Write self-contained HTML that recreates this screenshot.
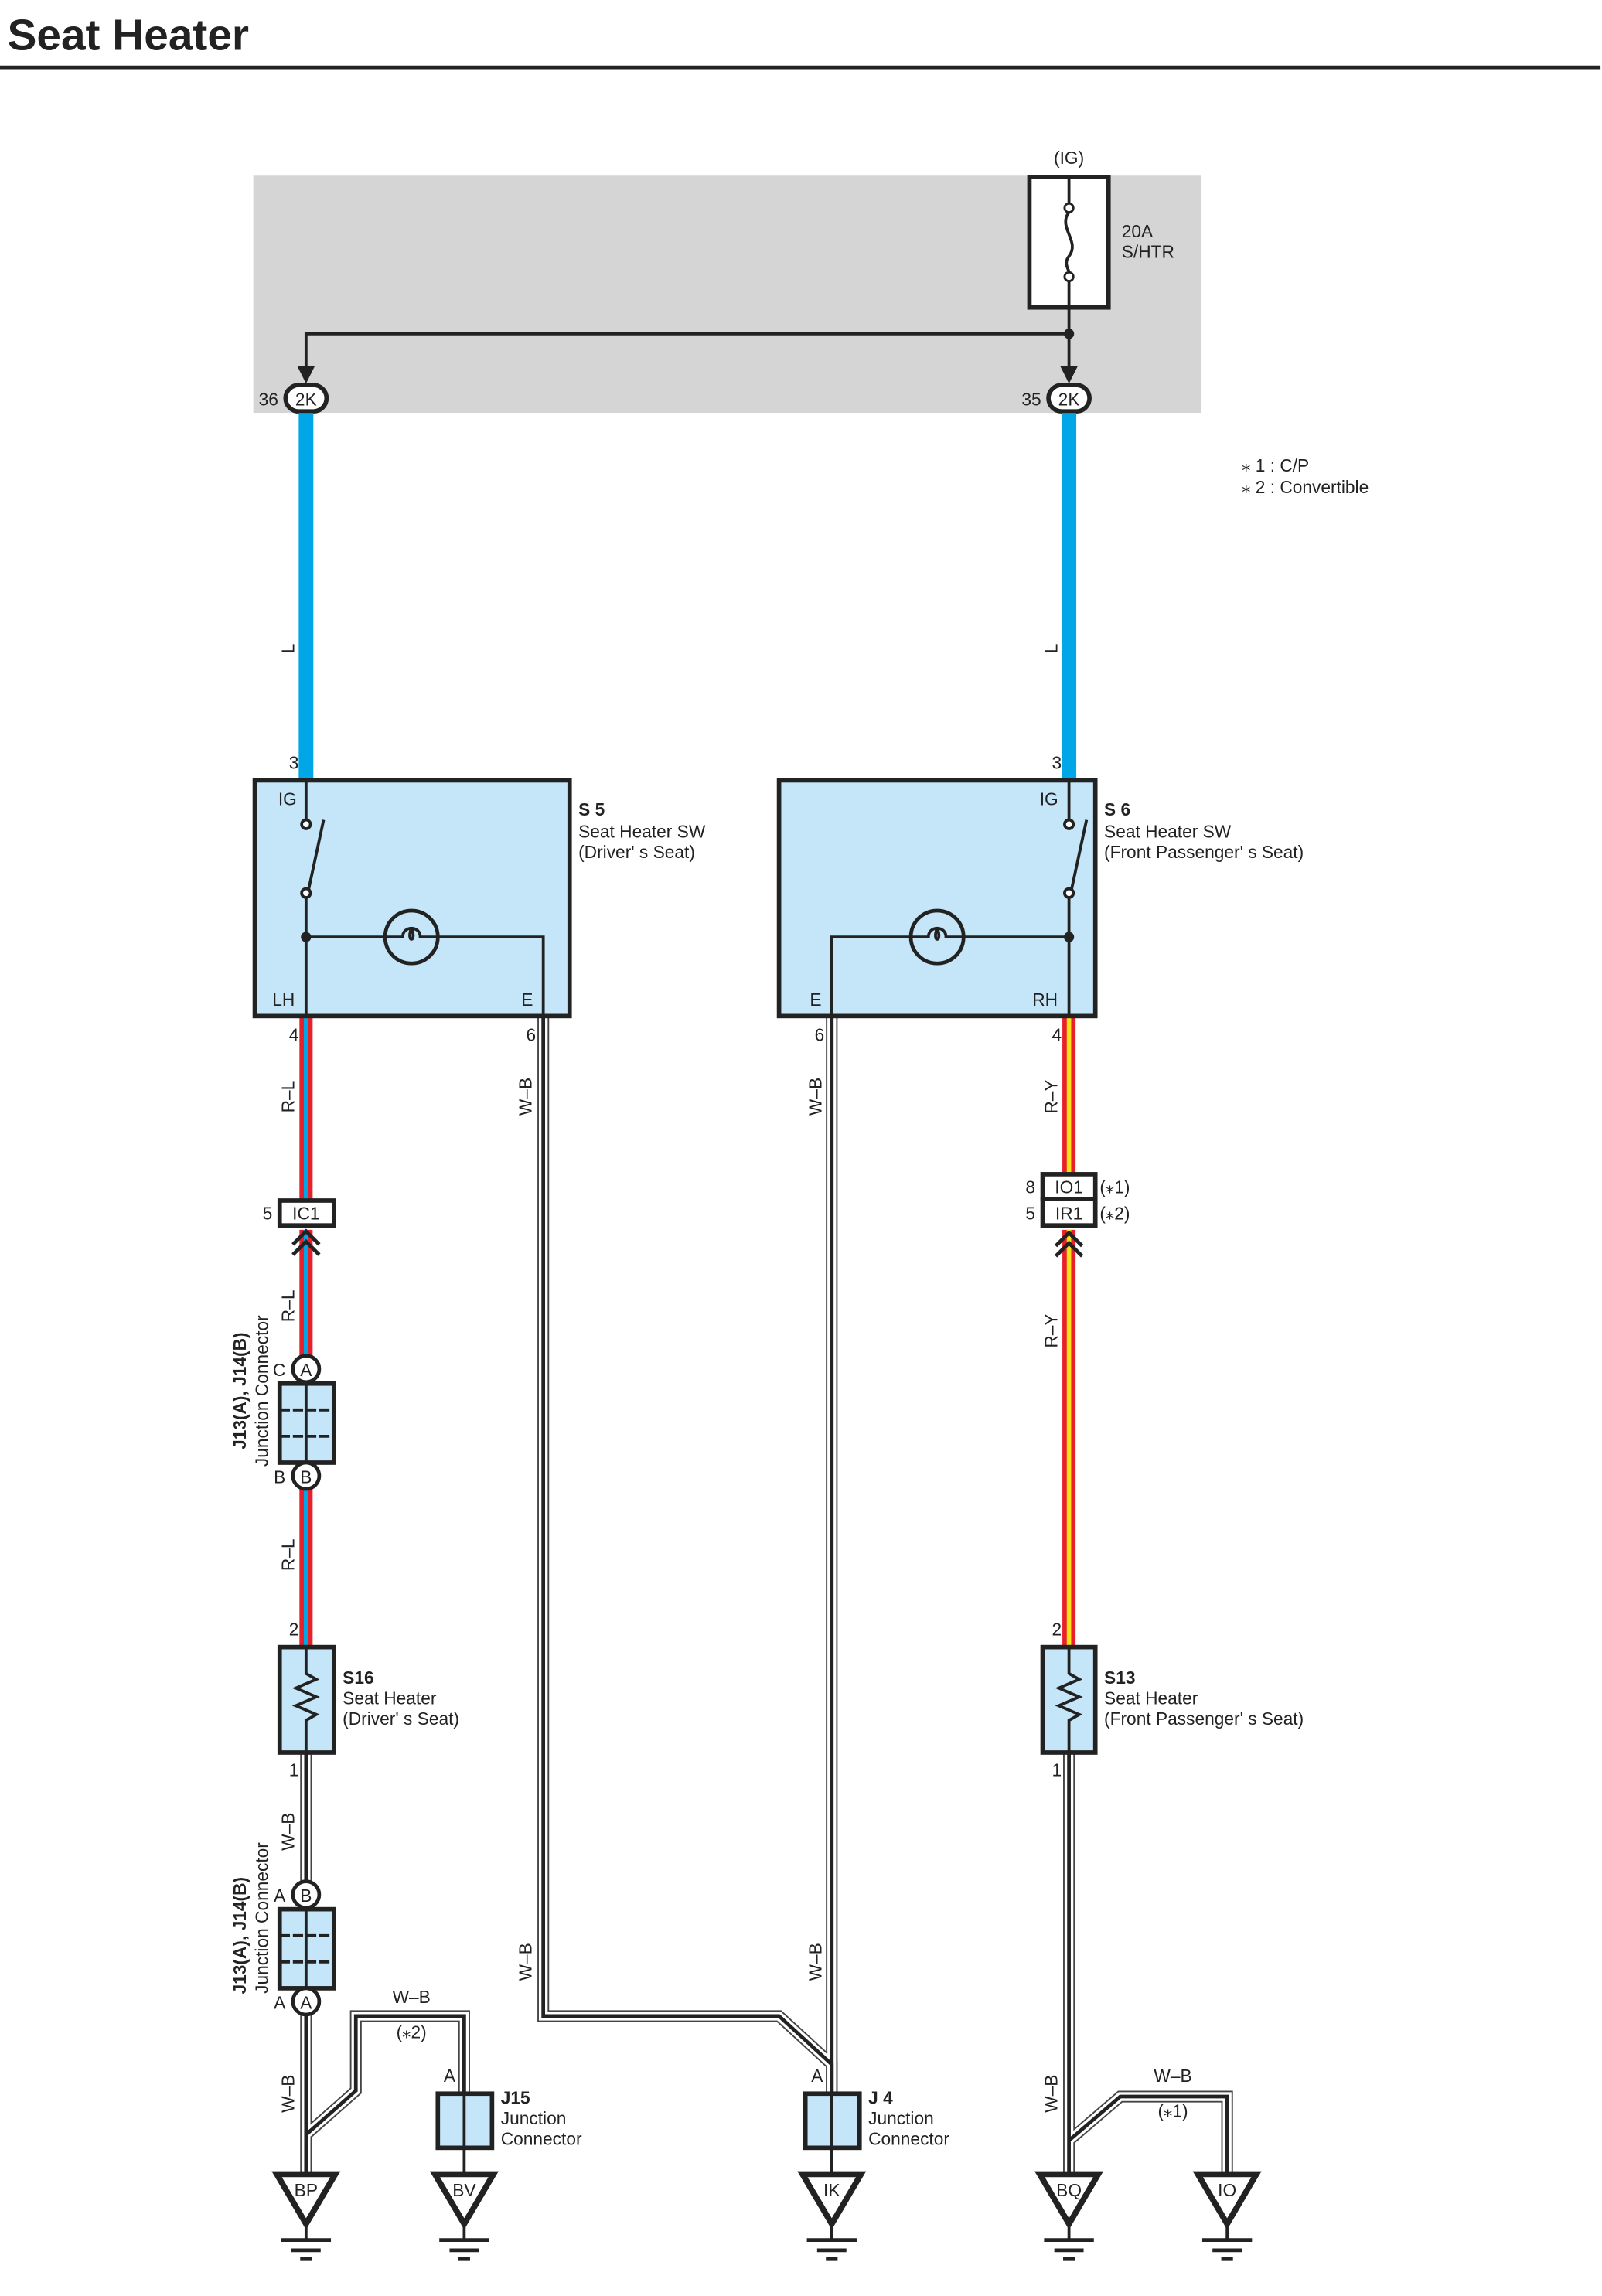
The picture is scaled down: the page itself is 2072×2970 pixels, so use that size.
<!DOCTYPE html>
<html><head><style>html,body{margin:0;padding:0;background:#fff}svg{display:block}</style></head>
<body>
<svg width="2072" height="2970" viewBox="0 0 1094 1568.2" preserveAspectRatio="none" xmlns="http://www.w3.org/2000/svg" font-family="Liberation Sans, sans-serif">
<defs>
<g id="gnd">
 <path d="M-20,0 L20,0 L0,34 Z" fill="#fff" stroke="#222" stroke-width="4" stroke-linejoin="miter"/>
 <line x1="0" y1="34" x2="0" y2="45" stroke="#222" stroke-width="2"/>
 <line x1="-17" y1="45" x2="17" y2="45" stroke="#222" stroke-width="2.5"/>
 <line x1="-10" y1="52" x2="10" y2="52" stroke="#222" stroke-width="2.5"/>
 <line x1="-4" y1="58" x2="4" y2="58" stroke="#222" stroke-width="2.5"/>
</g>
</defs>
<text x="5" y="34" font-size="30" font-weight="bold" fill="#222">Seat Heater</text>
<line x1="0" y1="46" x2="1093" y2="46" stroke="#222" stroke-width="2.5"/>

<rect x="173" y="120" width="647" height="162" fill="#d5d5d6"/>
<text x="730" y="112" font-size="12" text-anchor="middle" fill="#222">(IG)</text>
<rect x="703" y="121" width="54" height="89" fill="#fff" stroke="#222" stroke-width="3"/>
<circle cx="730" cy="142" r="3" fill="#fff" stroke="#222" stroke-width="1.5"/>
<circle cx="730" cy="189" r="3" fill="#fff" stroke="#222" stroke-width="1.5"/>
<path d="M730,145 C722,155 738,165 730,175 C726,180 730,184 730,186" fill="none" stroke="#222" stroke-width="2"/>
<line x1="730" y1="122" x2="730" y2="139" stroke="#222" stroke-width="2"/>
<text x="766" y="162" font-size="12" fill="#222">20A</text>
<text x="766" y="176" font-size="12" fill="#222">S/HTR</text>
<path d="M730,192 V250 M209,250 V228 H730" fill="none" stroke="#222" stroke-width="2"/>
<circle cx="730" cy="228" r="3.5" fill="#222"/>
<path d="M203,250 L215,250 L209,262 Z M724,250 L736,250 L730,262 Z" fill="#222"/>
<rect x="195" y="263" width="28" height="18" rx="9" fill="#fff" stroke="#222" stroke-width="3"/>
<rect x="716" y="263" width="28" height="18" rx="9" fill="#fff" stroke="#222" stroke-width="3"/>
<text x="209" y="277" font-size="12" text-anchor="middle" fill="#222">2K</text>
<text x="730" y="277" font-size="12" text-anchor="middle" fill="#222">2K</text>
<text x="190" y="277" font-size="12" text-anchor="end" fill="#222">36</text>
<text x="711" y="277" font-size="12" text-anchor="end" fill="#222">35</text>

<text x="848" y="322" font-size="12" fill="#222">⁎ 1 : C/P</text>
<text x="848" y="337" font-size="12" fill="#222">⁎ 2 : Convertible</text>

<line x1="209" y1="282" x2="209" y2="533" stroke="#00a6e6" stroke-width="10"/>
<line x1="730" y1="282" x2="730" y2="533" stroke="#00a6e6" stroke-width="10"/>
<text transform="translate(201,443) rotate(-90)" font-size="12" text-anchor="middle" fill="#222">L</text>
<text transform="translate(722,443) rotate(-90)" font-size="12" text-anchor="middle" fill="#222">L</text>
<text x="204" y="525" font-size="12" text-anchor="end" fill="#222">3</text>
<text x="725" y="525" font-size="12" text-anchor="end" fill="#222">3</text>

<g fill="none" stroke-linejoin="miter">
 <g stroke="#444" stroke-width="8">
  <path d="M371,694 V1377 H532 L568,1410 V1430"/>
  <path d="M568,694 V1430"/>
  <path d="M209,1197 V1294 M209,1376 V1484 M209,1458 L243,1428 V1377 H317 V1430"/>
  <path d="M730,1197 V1484 M730,1462 L765,1432 H838 V1484"/>
 </g>
 <g stroke="#fff" stroke-width="6">
  <path d="M371,694 V1377 H532 L568,1410 V1430"/>
  <path d="M568,694 V1430"/>
  <path d="M209,1197 V1294 M209,1376 V1484 M209,1458 L243,1428 V1377 H317 V1430"/>
  <path d="M730,1197 V1484 M730,1462 L765,1432 H838 V1484"/>
 </g>
 <g stroke="#222" stroke-width="2.5">
  <path d="M371,694 V1377 H532 L568,1410 V1430"/>
  <path d="M568,694 V1430"/>
  <path d="M209,1197 V1294 M209,1376 V1484 M209,1458 L243,1428 V1377 H317 V1430"/>
  <path d="M730,1197 V1484 M730,1462 L765,1432 H838 V1484"/>
 </g>
</g>
<line x1="317" y1="1467" x2="317" y2="1484" stroke="#222" stroke-width="2"/>
<line x1="568" y1="1467" x2="568" y2="1484" stroke="#222" stroke-width="2"/>

<g stroke-width="9" stroke="#e8202a">
 <line x1="209" y1="694" x2="209" y2="819"/>
 <line x1="209" y1="840" x2="209" y2="926"/>
 <line x1="209" y1="1017" x2="209" y2="1125"/>
</g>
<g stroke-width="3" stroke="#00a6e6">
 <line x1="209" y1="694" x2="209" y2="819"/>
 <line x1="209" y1="840" x2="209" y2="926"/>
 <line x1="209" y1="1017" x2="209" y2="1125"/>
</g>
<g stroke-width="9" stroke="#e8202a">
 <line x1="730" y1="694" x2="730" y2="802"/>
 <line x1="730" y1="840" x2="730" y2="1125"/>
</g>
<g stroke-width="3" stroke="#f7e11a">
 <line x1="730" y1="694" x2="730" y2="802"/>
 <line x1="730" y1="840" x2="730" y2="1125"/>
</g>

<rect x="174" y="533" width="215" height="161" fill="#c5e6f8" stroke="#222" stroke-width="3"/>
<text x="190" y="550" font-size="12" fill="#222">IG</text>
<text x="186" y="687" font-size="12" fill="#222">LH</text>
<text x="356" y="687" font-size="12" fill="#222">E</text>
<g stroke="#222" stroke-width="2" fill="none">
 <path d="M209,533 V560 M209,612 V694 M209,640 H263 M299,640 H371 V694 M210,611 L221,560"/>
 <circle cx="281" cy="640" r="18" stroke-width="2.5"/>
 <path d="M263,640 H275 C275,632 287,632 287,640 H299 M281,634 C277,644 285,644 281,634"/>
</g>
<circle cx="209" cy="563" r="3" fill="#fff" stroke="#222" stroke-width="2"/>
<circle cx="209" cy="610" r="3" fill="#fff" stroke="#222" stroke-width="2"/>
<circle cx="209" cy="640" r="3.5" fill="#222"/>
<text x="395" y="557" font-size="12" font-weight="bold" fill="#222">S 5</text>
<text x="395" y="572" font-size="12" fill="#222">Seat Heater SW</text>
<text x="395" y="586" font-size="12" fill="#222">(Driver' s Seat)</text>
<text x="204" y="711" font-size="12" text-anchor="end" fill="#222">4</text>
<text x="366" y="711" font-size="12" text-anchor="end" fill="#222">6</text>

<rect x="532" y="533" width="216" height="161" fill="#c5e6f8" stroke="#222" stroke-width="3"/>
<text x="710" y="550" font-size="12" fill="#222">IG</text>
<text x="705" y="687" font-size="12" fill="#222">RH</text>
<text x="553" y="687" font-size="12" fill="#222">E</text>
<g stroke="#222" stroke-width="2" fill="none">
 <path d="M730,533 V560 M730,612 V694 M730,640 H658 M622,640 H568 V694 M731,611 L742,560"/>
 <circle cx="640" cy="640" r="18" stroke-width="2.5"/>
 <path d="M622,640 H634 C634,632 646,632 646,640 H658 M640,634 C636,644 644,644 640,634"/>
</g>
<circle cx="730" cy="563" r="3" fill="#fff" stroke="#222" stroke-width="2"/>
<circle cx="730" cy="610" r="3" fill="#fff" stroke="#222" stroke-width="2"/>
<circle cx="730" cy="640" r="3.5" fill="#222"/>
<text x="754" y="557" font-size="12" font-weight="bold" fill="#222">S 6</text>
<text x="754" y="572" font-size="12" fill="#222">Seat Heater SW</text>
<text x="754" y="586" font-size="12" fill="#222">(Front Passenger' s Seat)</text>
<text x="725" y="711" font-size="12" text-anchor="end" fill="#222">4</text>
<text x="563" y="711" font-size="12" text-anchor="end" fill="#222">6</text>

<g font-size="12" fill="#222" text-anchor="middle">
 <text transform="translate(201,749) rotate(-90)">R–L</text>
 <text transform="translate(201,892) rotate(-90)">R–L</text>
 <text transform="translate(201,1062) rotate(-90)">R–L</text>
 <text transform="translate(201,1251) rotate(-90)">W–B</text>
 <text transform="translate(201,1430) rotate(-90)">W–B</text>
 <text transform="translate(363,749) rotate(-90)">W–B</text>
 <text transform="translate(363,1340) rotate(-90)">W–B</text>
 <text transform="translate(561,749) rotate(-90)">W–B</text>
 <text transform="translate(561,1340) rotate(-90)">W–B</text>
 <text transform="translate(722,749) rotate(-90)">R–Y</text>
 <text transform="translate(722,909) rotate(-90)">R–Y</text>
 <text transform="translate(722,1430) rotate(-90)">W–B</text>
 <text x="281" y="1368">W–B</text>
 <text x="281" y="1392">(⁎2)</text>
 <text x="801" y="1422">W–B</text>
 <text x="801" y="1446">(⁎1)</text>
</g>

<rect x="191" y="820" width="37" height="17" fill="#fff" stroke="#222" stroke-width="3"/>
<text x="209" y="833" font-size="12" text-anchor="middle" fill="#222">IC1</text>
<text x="186" y="833" font-size="12" text-anchor="end" fill="#222">5</text>
<path d="M200,850 L209,841 L218,850 M200,857 L209,848 L218,857" fill="none" stroke="#222" stroke-width="2.5"/>

<rect x="712" y="802" width="36" height="17" fill="#fff" stroke="#222" stroke-width="3"/>
<rect x="712" y="819" width="36" height="18" fill="#fff" stroke="#222" stroke-width="3"/>
<text x="730" y="815" font-size="12" text-anchor="middle" fill="#222">IO1</text>
<text x="730" y="833" font-size="12" text-anchor="middle" fill="#222">IR1</text>
<text x="707" y="815" font-size="12" text-anchor="end" fill="#222">8</text>
<text x="707" y="833" font-size="12" text-anchor="end" fill="#222">5</text>
<text x="751" y="815" font-size="12" fill="#222">(⁎1)</text>
<text x="751" y="833" font-size="12" fill="#222">(⁎2)</text>
<path d="M721,851 L730,842 L739,851 M721,858 L730,849 L739,858" fill="none" stroke="#222" stroke-width="2.5"/>

<circle cx="209" cy="935" r="9" fill="#fff" stroke="#222" stroke-width="2.5"/>
<text x="209" y="940" font-size="12" text-anchor="middle" fill="#222">A</text>
<text x="195" y="940" font-size="12" text-anchor="end" fill="#222">C</text>
<rect x="191" y="945" width="37" height="54" fill="#c5e6f8" stroke="#222" stroke-width="3"/>
<line x1="209" y1="945" x2="209" y2="999" stroke="#222" stroke-width="2"/>
<line x1="191" y1="963" x2="228" y2="963" stroke="#222" stroke-width="2" stroke-dasharray="7,2"/>
<line x1="191" y1="981" x2="228" y2="981" stroke="#222" stroke-width="2" stroke-dasharray="7,2"/>
<circle cx="209" cy="1008" r="9" fill="#fff" stroke="#222" stroke-width="2.5"/>
<text x="209" y="1013" font-size="12" text-anchor="middle" fill="#222">B</text>
<text x="195" y="1013" font-size="12" text-anchor="end" fill="#222">B</text>
<text transform="translate(168,950) rotate(-90)" font-size="12" font-weight="bold" text-anchor="middle" fill="#222">J13(A), J14(B)</text>
<text transform="translate(183,950) rotate(-90)" font-size="12" text-anchor="middle" fill="#222">Junction Connector</text>

<circle cx="209" cy="1294" r="9" fill="#fff" stroke="#222" stroke-width="2.5"/>
<text x="209" y="1299" font-size="12" text-anchor="middle" fill="#222">B</text>
<text x="195" y="1299" font-size="12" text-anchor="end" fill="#222">A</text>
<rect x="191" y="1304" width="37" height="54" fill="#c5e6f8" stroke="#222" stroke-width="3"/>
<line x1="209" y1="1304" x2="209" y2="1358" stroke="#222" stroke-width="2"/>
<line x1="191" y1="1322" x2="228" y2="1322" stroke="#222" stroke-width="2" stroke-dasharray="7,2"/>
<line x1="191" y1="1340" x2="228" y2="1340" stroke="#222" stroke-width="2" stroke-dasharray="7,2"/>
<circle cx="209" cy="1367" r="9" fill="#fff" stroke="#222" stroke-width="2.5"/>
<text x="209" y="1372" font-size="12" text-anchor="middle" fill="#222">A</text>
<text x="195" y="1372" font-size="12" text-anchor="end" fill="#222">A</text>
<text transform="translate(168,1322) rotate(-90)" font-size="12" font-weight="bold" text-anchor="middle" fill="#222">J13(A), J14(B)</text>
<text transform="translate(183,1310) rotate(-90)" font-size="12" text-anchor="middle" fill="#222">Junction Connector</text>

<rect x="191" y="1125" width="37" height="72" fill="#c5e6f8" stroke="#222" stroke-width="3"/>
<path d="M209,1125 V1143 L216,1147 L202,1153 L216,1159 L202,1165 L216,1171 L209,1175 V1197" fill="none" stroke="#222" stroke-width="2"/>
<text x="204" y="1117" font-size="12" text-anchor="end" fill="#222">2</text>
<text x="204" y="1213" font-size="12" text-anchor="end" fill="#222">1</text>
<text x="234" y="1150" font-size="12" font-weight="bold" fill="#222">S16</text>
<text x="234" y="1164" font-size="12" fill="#222">Seat Heater</text>
<text x="234" y="1178" font-size="12" fill="#222">(Driver' s Seat)</text>

<rect x="712" y="1125" width="36" height="72" fill="#c5e6f8" stroke="#222" stroke-width="3"/>
<path d="M730,1125 V1143 L737,1147 L723,1153 L737,1159 L723,1165 L737,1171 L730,1175 V1197" fill="none" stroke="#222" stroke-width="2"/>
<text x="725" y="1117" font-size="12" text-anchor="end" fill="#222">2</text>
<text x="725" y="1213" font-size="12" text-anchor="end" fill="#222">1</text>
<text x="754" y="1150" font-size="12" font-weight="bold" fill="#222">S13</text>
<text x="754" y="1164" font-size="12" fill="#222">Seat Heater</text>
<text x="754" y="1178" font-size="12" fill="#222">(Front Passenger' s Seat)</text>

<rect x="299" y="1430" width="37" height="37" fill="#c5e6f8" stroke="#222" stroke-width="3"/>
<line x1="317" y1="1430" x2="317" y2="1467" stroke="#222" stroke-width="2"/>
<text x="311" y="1422" font-size="12" text-anchor="end" fill="#222">A</text>
<text x="342" y="1437" font-size="12" font-weight="bold" fill="#222">J15</text>
<text x="342" y="1451" font-size="12" fill="#222">Junction</text>
<text x="342" y="1465" font-size="12" fill="#222">Connector</text>

<rect x="550" y="1430" width="37" height="37" fill="#c5e6f8" stroke="#222" stroke-width="3"/>
<line x1="568" y1="1430" x2="568" y2="1467" stroke="#222" stroke-width="2"/>
<text x="562" y="1422" font-size="12" text-anchor="end" fill="#222">A</text>
<text x="593" y="1437" font-size="12" font-weight="bold" fill="#222">J 4</text>
<text x="593" y="1451" font-size="12" fill="#222">Junction</text>
<text x="593" y="1465" font-size="12" fill="#222">Connector</text>

<use href="#gnd" x="209" y="1485"/>
<use href="#gnd" x="317" y="1485"/>
<use href="#gnd" x="568" y="1485"/>
<use href="#gnd" x="730" y="1485"/>
<use href="#gnd" x="838" y="1485"/>
<g font-size="12" text-anchor="middle" fill="#222">
 <text x="209" y="1500">BP</text>
 <text x="317" y="1500">BV</text>
 <text x="568" y="1500">IK</text>
 <text x="730" y="1500">BQ</text>
 <text x="838" y="1500">IO</text>
</g>
</svg>
</body></html>
